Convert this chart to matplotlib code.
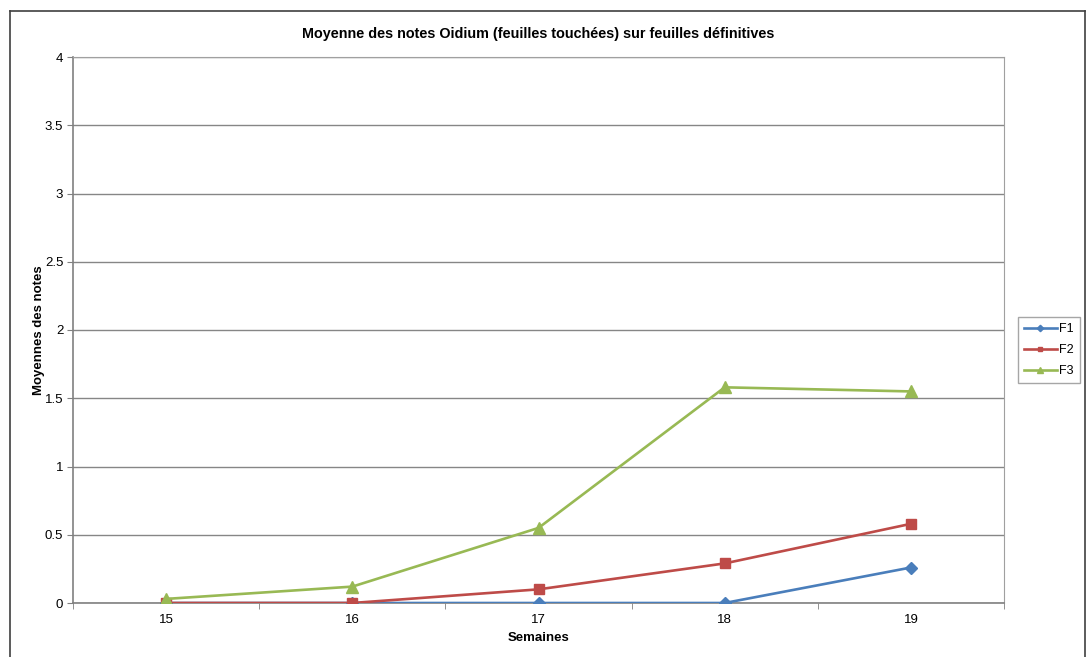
import numpy as np
import matplotlib.pyplot as plt
from matplotlib.lines import Line2D

plt.rcParams['font.family'] = ['Liberation Sans', 'DejaVu Sans']

# semaines et moyennes des notes
semaines = ['15', '16', '17', '18', '19']
f1 = [0, 0, 0, 0, 0.26]
f2 = [0, 0, 0.10, 0.29, 0.58]
f3 = [0.03, 0.12, 0.55, 1.58, 1.55]

fig = plt.figure(figsize=(10.86, 6.57), dpi=100)
ax = fig.add_axes([73 / 1086, 1 - 603 / 657, 931 / 1086, 546 / 657])

# cadre extérieur du graphique (le bas est coupé)
W, H = 1086, 657
for xs, ys in [((10, 10), (11, 657)), ((10, 1085), (11, 11)), ((1085, 1085), (11, 657))]:
    fig.add_artist(Line2D([x / W for x in xs], [1 - y / H for y in ys],
                          color='#404040', lw=1.2, transform=fig.transFigure))

x = np.arange(len(semaines))
ax.plot(x, f1, color='#4A7EBB', lw=1.9, marker='D', ms=6.5, label='F1', zorder=3)
ax.plot(x, f2, color='#BE4B48', lw=1.9, marker='s', ms=7, label='F2', zorder=3)
ax.plot(x, f3, color='#98B954', lw=1.9, marker='^', ms=8, label='F3', zorder=3)

ax.set_xlim(-0.5, len(semaines) - 0.5)
ax.set_ylim(0, 4)
ax.set_yticks(np.arange(0, 4.01, 0.5))
ax.set_yticklabels(['0', '0.5', '1', '1.5', '2', '2.5', '3', '3.5', '4'])
ax.set_xticks(x)
ax.set_xticklabels(semaines)
ax.set_xticks(np.arange(-0.5, len(semaines), 1), minor=True)
ax.tick_params(axis='x', which='major', length=0, labelsize=9.5, pad=8)
ax.tick_params(axis='x', which='minor', length=4, color='#808080', direction='out')
ax.tick_params(axis='y', length=4, color='#808080', labelsize=9.5, pad=3)

ax.grid(axis='y', color='#868686', lw=1)
ax.set_axisbelow(True)
for s in ['top', 'right']:
    ax.spines[s].set_color('#a0a0a0')
for s in ['left', 'bottom']:
    ax.spines[s].set_color('#808080')
    ax.spines[s].set_linewidth(1.2)

ax.set_title('Moyenne des notes Oidium (feuilles touchées) sur feuilles définitives',
             fontsize=10.4, fontweight='bold', pad=14)
ax.set_xlabel('Semaines', fontsize=9.5, fontweight='bold', labelpad=4)
ax.set_ylabel('Moyennes des notes', fontsize=9.5, fontweight='bold', labelpad=0)

leg = ax.legend(loc='center left', bbox_to_anchor=(1.015, 0.463), fontsize=9,
                frameon=True, fancybox=False, edgecolor='#909090',
                handlelength=2.6, markerscale=0.5, borderpad=0.5, labelspacing=0.7,
                handletextpad=0.2, borderaxespad=0)

fig.savefig('out.png', dpi=100)
